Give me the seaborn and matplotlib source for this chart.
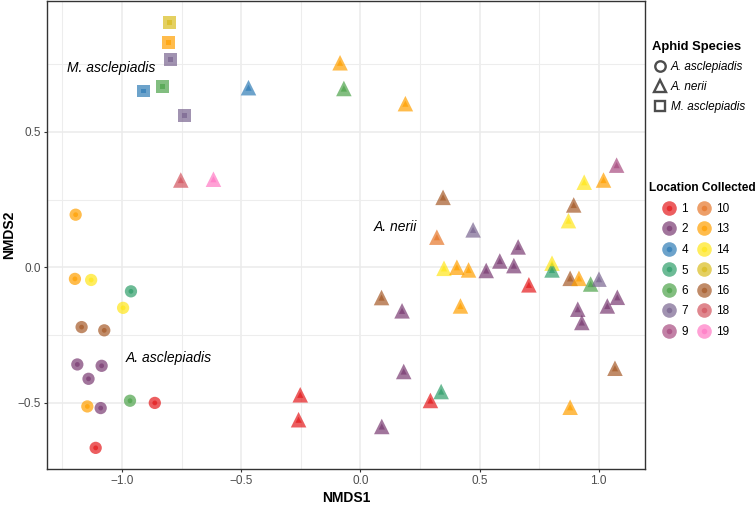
import matplotlib
matplotlib.use("Agg")
import matplotlib.pyplot as plt
from matplotlib.lines import Line2D
from matplotlib.legend_handler import HandlerTuple
from matplotlib.ticker import MultipleLocator
import seaborn as sns
import pandas as pd

# NMDS scores, grouped by aphid species
asc_x = [-1.194, -1.197, -1.129, -0.962, -0.995, -1.169, -1.074, -1.187,
         -1.085, -1.140, -1.145, -1.089, -0.966, -0.862, -1.110]
asc_y = [0.194, -0.043, -0.047, -0.089, -0.150, -0.221, -0.233, -0.359,
         -0.364, -0.412, -0.514, -0.520, -0.493, -0.501, -0.667]
asc_loc = [13, 13, 14, 5, 14, 16, 16, 2, 2, 2, 13, 2, 6, 1, 1]

ner_x = [-0.469, -0.753, -0.616, -0.085, -0.069, 0.189, 1.075, 1.020, 0.939,
         0.347, 0.895, 0.873, 0.473, 0.321, 0.662, 0.585, 0.644, 0.528,
         0.351, 0.405, 0.454, 0.804, 0.804, 0.707, 0.880, 0.917, 0.966,
         1.001, 1.078, 1.036, 0.912, 0.929, 0.089, 0.175, 0.420, -0.252,
         -0.259, 0.182, 0.090, 0.339, 0.294, 1.068, 0.880]
ner_y = [0.663, 0.322, 0.325, 0.755, 0.660, 0.604, 0.377, 0.322, 0.314,
         0.258, 0.230, 0.172, 0.138, 0.111, 0.075, 0.023, 0.006, -0.012,
         -0.004, 0.000, -0.010, 0.015, -0.010, -0.065, -0.041, -0.041, -0.062,
         -0.044, -0.111, -0.143, -0.155, -0.204, -0.112, -0.161, -0.143, -0.471,
         -0.563, -0.385, -0.588, -0.459, -0.492, -0.373, -0.517]
ner_loc = [4, 18, 19, 13, 6, 13, 9, 13, 14, 16, 16, 14, 7, 10, 2, 2, 2, 2,
           14, 13, 13, 14, 5, 1, 16, 13, 6, 7, 2, 2, 2, 2, 16, 2, 13, 1,
           1, 2, 2, 5, 1, 16, 13]

mas_x = [-0.799, -0.804, -0.796, -0.829, -0.909, -0.739]
mas_y = [0.904, 0.830, 0.768, 0.668, 0.651, 0.559]
mas_loc = [15, 13, 7, 6, 4, 7]

species = ["A. asclepiadis", "A. nerii", "M. asclepiadis"]
locations = [1, 2, 4, 5, 6, 7, 9, 10, 13, 14, 15, 16, 18, 19]
loc_colors = ["#E41A1C", "#7A3B72", "#2F7CB6", "#2F9E6A", "#4DA34A", "#7A6590",
              "#A84C80", "#E6772A", "#FFA000", "#FFE61A", "#D9BC1E", "#A65A28",
              "#D2555F", "#FF79C4"]

# cluster labels inside the panel
label_text = ["M. asclepiadis", "A. nerii", "A. asclepiadis"]
label_x = [-1.232, 0.057, -0.983]
label_y = [0.734, 0.148, -0.334]

df = pd.concat([
    pd.DataFrame({"NMDS1": asc_x, "NMDS2": asc_y, "loc": asc_loc, "species": species[0]}),
    pd.DataFrame({"NMDS1": ner_x, "NMDS2": ner_y, "loc": ner_loc, "species": species[1]}),
    pd.DataFrame({"NMDS1": mas_x, "NMDS2": mas_y, "loc": mas_loc, "species": species[2]}),
], ignore_index=True)

palette = dict(zip(locations, loc_colors))
markers = {species[0]: "o", species[1]: "^", species[2]: "s"}
outer_sizes = {species[0]: 78, species[1]: 125, species[2]: 85}
inner_sizes = {species[0]: 12, species[1]: 20, species[2]: 12}

plt.rcParams["font.family"] = ["Liberation Sans", "DejaVu Sans"]
fig = plt.figure(figsize=(7.55, 5.12), dpi=100)
ax = fig.add_axes([0.0623, 0.084, 0.792, 0.914])

sns.scatterplot(data=df, x="NMDS1", y="NMDS2", hue="loc", palette=palette,
                style="species", markers=markers, size="species", sizes=outer_sizes,
                alpha=0.7, linewidth=0, legend=False, ax=ax, zorder=3)
sns.scatterplot(data=df, x="NMDS1", y="NMDS2", hue="loc", palette=palette,
                style="species", markers=markers, size="species", sizes=inner_sizes,
                alpha=0.7, linewidth=0, legend=False, ax=ax, zorder=4)

for t, x, y in zip(label_text, label_x, label_y):
    ax.text(x, y, t, fontsize=10, style="italic", va="center", ha="left", color="black")

ax.set_xlim(-1.314, 1.194)
ax.set_ylim(-0.745, 0.983)
ax.xaxis.set_major_locator(MultipleLocator(0.5))
ax.xaxis.set_minor_locator(MultipleLocator(0.25))
ax.yaxis.set_major_locator(MultipleLocator(0.5))
ax.yaxis.set_minor_locator(MultipleLocator(0.25))
ax.grid(which="major", color="#EBEBEB", linewidth=1.1, zorder=0)
ax.grid(which="minor", color="#EDEDED", linewidth=0.8, zorder=0)
ax.set_axisbelow(True)
ax.tick_params(which="minor", length=0)
ax.tick_params(which="major", length=2.5, width=0.8, color="#333333",
               labelsize=8.5, labelcolor="#4D4D4D", pad=2)
for s in ax.spines.values():
    s.set_color("#333333")
    s.set_linewidth(1.0)
ax.set_xlabel("NMDS1", fontsize=10, fontweight="bold", labelpad=3)
ax.set_ylabel("NMDS2", fontsize=10, fontweight="bold", labelpad=1)

# legend: aphid species
fig.text(652 / 755, 1 - 47 / 512, "Aphid Species", fontsize=9.4, fontweight="bold",
         ha="left", va="center")
sp_handles = [Line2D([], [], marker=markers[s], linestyle="", markerfacecolor="none",
                     markeredgecolor="#4D4D4D", markeredgewidth=1.7,
                     markersize=7.5 if s != species[1] else 8.5) for s in species]
leg1 = fig.legend(sp_handles, species, loc="upper left",
                  bbox_to_anchor=(654 / 755, 1 - 61 / 512), frameon=False,
                  borderpad=0, borderaxespad=0, handlelength=1.0, handletextpad=0.4,
                  labelspacing=0.68, prop={"size": 8.5, "style": "italic"})

# legend: location collected
fig.text(649 / 755, 1 - 188 / 512, "Location Collected", fontsize=8.6, fontweight="bold",
         ha="left", va="center")
loc_handles = []
for c in loc_colors:
    big = Line2D([], [], marker="o", linestyle="", markersize=10.5, color=c, alpha=0.7,
                 markeredgewidth=0)
    small = Line2D([], [], marker="o", linestyle="", markersize=4, color=c, alpha=0.7,
                   markeredgewidth=0)
    loc_handles.append((big, small))
loc_labels = [str(v) for v in locations]
leg2 = fig.legend(loc_handles, loc_labels, loc="upper left", ncol=2,
                  bbox_to_anchor=(662 / 755, 1 - 203 / 512), frameon=False,
                  borderpad=0, borderaxespad=0, handlelength=1.2, handletextpad=0.45,
                  columnspacing=0.75, labelspacing=0.72, prop={"size": 8.5},
                  handler_map={tuple: HandlerTuple(ndivide=1)})

fig.savefig("out.png", dpi=100)
